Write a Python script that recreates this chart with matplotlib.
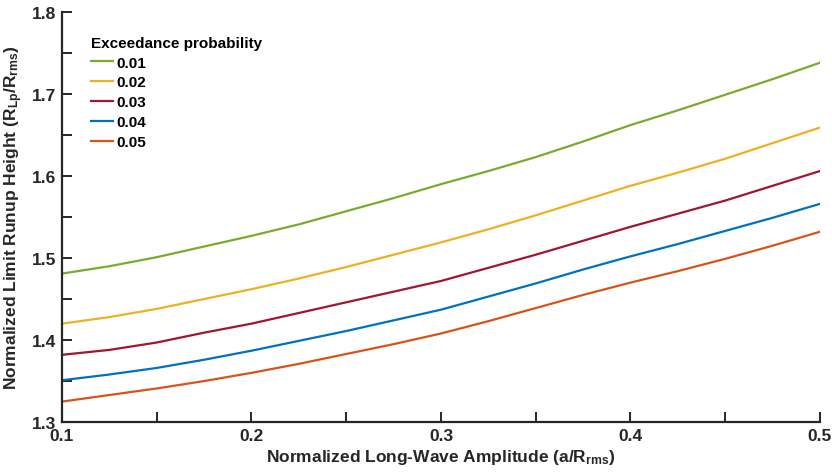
import matplotlib
matplotlib.use('Agg')
import matplotlib.pyplot as plt
from matplotlib.ticker import MultipleLocator

# long-wave amplitude grid
amp = [0.1, 0.125, 0.15, 0.175, 0.2, 0.225, 0.25, 0.275, 0.3,
       0.325, 0.35, 0.375, 0.4, 0.425, 0.45, 0.475, 0.5]

probs = ['0.01', '0.02', '0.03', '0.04', '0.05']

runup_001 = [1.481, 1.490, 1.501, 1.514, 1.527, 1.541, 1.557, 1.573, 1.590,
             1.606, 1.623, 1.642, 1.662, 1.680, 1.699, 1.718, 1.738]
runup_002 = [1.420, 1.428, 1.438, 1.450, 1.462, 1.475, 1.489, 1.504, 1.519,
             1.535, 1.552, 1.570, 1.588, 1.604, 1.621, 1.640, 1.659]
runup_003 = [1.382, 1.388, 1.397, 1.409, 1.420, 1.433, 1.446, 1.459, 1.472,
             1.488, 1.504, 1.521, 1.538, 1.554, 1.570, 1.588, 1.606]
runup_004 = [1.351, 1.358, 1.366, 1.376, 1.387, 1.399, 1.411, 1.424, 1.437,
             1.453, 1.469, 1.486, 1.502, 1.517, 1.533, 1.549, 1.566]
runup_005 = [1.325, 1.333, 1.341, 1.350, 1.360, 1.371, 1.383, 1.395, 1.408,
             1.423, 1.439, 1.455, 1.470, 1.484, 1.499, 1.515, 1.532]

series = [runup_001, runup_002, runup_003, runup_004, runup_005]
colors = ['#77AC30', '#EDB120', '#A2142F', '#0072BD', '#D95319']

plt.rcParams['font.family'] = ['Liberation Sans', 'DejaVu Sans']
plt.rcParams['font.weight'] = 'bold'
plt.rcParams['mathtext.fontset'] = 'custom'
plt.rcParams['mathtext.rm'] = 'Liberation Sans:bold'
plt.rcParams['mathtext.bf'] = 'Liberation Sans:bold'
plt.rcParams['mathtext.default'] = 'bf'

fig = plt.figure(figsize=(8.32, 4.77), dpi=100)
ax = fig.add_axes([0.0745, 0.113, 0.911, 0.86])

for vals, c, p in zip(series, colors, probs):
    ax.plot(amp, vals, color=c, linewidth=1.6, label=p)

ax.set_xlim(0.1, 0.5)
ax.set_ylim(1.3, 1.8)
ax.xaxis.set_major_locator(MultipleLocator(0.1))
ax.xaxis.set_minor_locator(MultipleLocator(0.05))
ax.yaxis.set_major_locator(MultipleLocator(0.1))
ax.yaxis.set_minor_locator(MultipleLocator(0.05))

ink = '#262626'
for side in ['top', 'right']:
    ax.spines[side].set_visible(False)
for side in ['left', 'bottom']:
    ax.spines[side].set_color(ink)
    ax.spines[side].set_linewidth(1.6)

ax.tick_params(which='both', direction='in', color=ink, width=1.4, length=7)
ax.tick_params(which='major', labelsize=12.5, labelcolor=ink, pad=4)
for lab in ax.get_xticklabels() + ax.get_yticklabels():
    lab.set_fontweight('bold')

ax.set_xlabel(r'Normalized Long-Wave Amplitude (a/R$_{rms}$)',
              fontsize=12.5, fontweight='bold', color=ink, labelpad=3)
ax.set_ylabel(r'Normalized Limit Runup Height (R$_{Lp}$/R$_{rms}$)',
              fontsize=12.5, fontweight='bold', color=ink, labelpad=5)

leg = ax.legend(title='Exceedance probability', loc='upper left',
                bbox_to_anchor=(0.02, 0.975), frameon=False,
                fontsize=11, title_fontsize=11, handlelength=1.45,
                handletextpad=0.2, labelspacing=0.38, alignment='left')
leg.get_title().set_fontweight('bold')
for t in leg.get_texts():
    t.set_fontweight('bold')
    t.set_color('black')

fig.savefig('out.png', dpi=100)
